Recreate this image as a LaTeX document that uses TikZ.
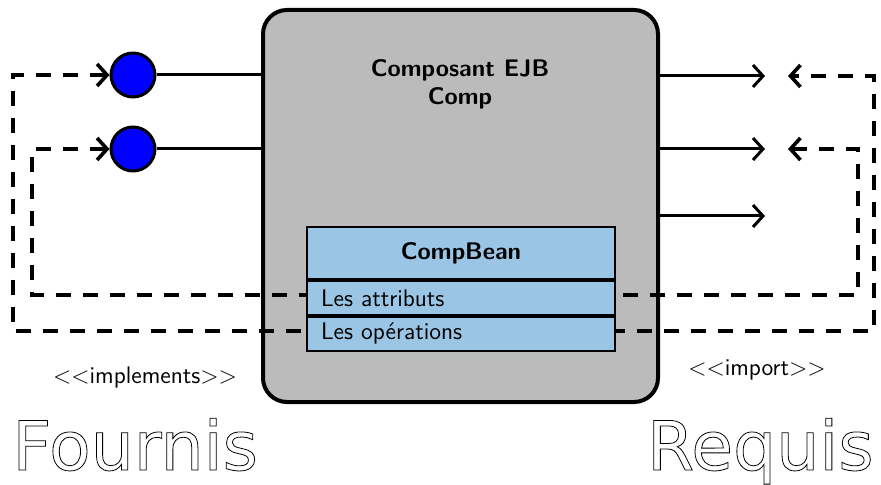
\documentclass[tikz,border=0pt]{standalone}
\usepackage{fontspec}
\newfontfamily\outfont{DejaVu Sans}
\usetikzlibrary{arrows.meta,positioning}

\definecolor{compgray}{RGB}{187,187,187}
\definecolor{beanblue}{RGB}{155,197,229}
\newcommand{\hollow}[1]{\special{pdf:literal direct 1 Tr 0.4 w}#1\special{pdf:literal direct 0 Tr}}

\begin{document}
\begin{tikzpicture}[x=0.5pt,y=-0.5pt,
                    >={Straight Barb[length=5pt,width=11pt]},
                    every node/.style={font=\sffamily\large},
                    compbox/.style={draw,line width=2pt,fill=compgray,rounded corners=12pt,
                                    minimum width=197.5pt,minimum height=196pt},
                    port/.style={circle,draw,line width=1.5pt,fill=blue,minimum size=22pt,inner sep=0pt},
                    wire/.style={line width=1.5pt},
                    dep/.style={line width=1.8pt,dash pattern=on 7.5pt off 6pt},
                    beanrow/.style={draw,line width=1pt,fill=beanblue,minimum width=154pt,
                                    minimum height=17pt,inner sep=0pt,text width=140pt,align=left},
                    outline/.style={font=\outfont\fontsize{34}{40}\selectfont,inner sep=0pt}]
  \useasboundingbox (0,0) rectangle (881,485);
  % the component
  \node[compbox] (comp) at (460.5,206) {};
  \node[font=\sffamily\large\bfseries,align=center] (title) at (460,84) {Composant EJB\\Comp};
  % provided ports
  \node[port] (p1) at (133,75) {};
  \node[port] (p2) at (133,149) {};
  \draw[wire] (p1) -- (p1 -| comp.west);
  \draw[wire] (p2) -- (p2 -| comp.west);
  % required ports
  \coordinate (r1) at (765,76);
  \coordinate (r2) at (765,149);
  \coordinate (r3) at (765,216);
  \foreach \r in {r1,r2,r3}{
    \draw[wire,->] (comp.east |- \r) -- (\r);
  }
  % dependencies
  \coordinate (q1) at (788,76);
  \coordinate (q2) at (788,149);
  \coordinate (lo) at (13,331);
  \coordinate (ro) at (874,331);
  \coordinate (li) at (32,295);
  \coordinate (ri) at (858,295);
  \draw[dep,<->] (p1.west) -| (lo) -- (ro) |- (q1);
  \draw[dep,<->] (p2.west) -| (li) -- (ri) |- (q2);
  % the bean class
  \node[beanrow,minimum height=26pt,align=center,font=\sffamily\large\bfseries] (head) at (461,253) {CompBean};
  \node[beanrow,below=0pt of head] (attr) {Les attributs};
  \node[beanrow,below=0pt of attr] (ops) {Les opérations};
  % stereotypes
  \node (impl) at (145,377) {$<<$implements$>>$};
  \node (imp) at (757,370) {$<<$import$>>$};
  \node[outline,anchor=base west] (fournis) at (12,470) {\hollow{Fournis}};
  \node[outline,anchor=base east] (requis) at (874,470) {\hollow{Requis}};
\end{tikzpicture}
\end{document}
